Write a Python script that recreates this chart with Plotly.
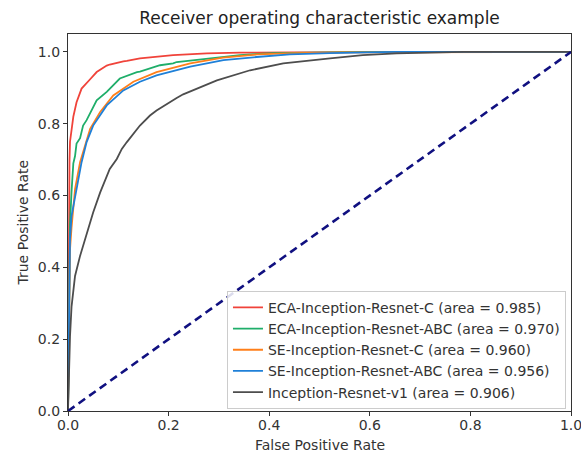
import plotly.graph_objects as go

# ---- data ----
labels = [
    "ECA-Inception-Resnet-C (area = 0.985)",
    "ECA-Inception-Resnet-ABC (area = 0.970)",
    "SE-Inception-Resnet-C (area = 0.960)",
    "SE-Inception-Resnet-ABC (area = 0.956)",
    "Inception-Resnet-v1 (area = 0.906)",
]
colors = ["#f0433a", "#1fae6a", "#ff7f1a", "#1f80d8", "#4d4d4d"]

fpr_eca_c = [0, 0.001, 0.002, 0.003, 0.004, 0.0106, 0.017, 0.024, 0.027, 0.044, 0.057, 0.077,
             0.083, 0.11, 0.117, 0.143, 0.156, 0.209, 0.276, 0.342, 0.45, 0.6, 0.8, 1.0]
tpr_eca_c = [0, 0.45, 0.62, 0.70, 0.75, 0.82, 0.86, 0.89, 0.898, 0.924, 0.944, 0.962,
             0.965, 0.974, 0.975, 0.982, 0.984, 0.991, 0.996, 0.998, 0.999, 1.0, 1.0, 1.0]

fpr_eca_abc = [0, 0.002, 0.004, 0.007, 0.0106, 0.014, 0.017, 0.024, 0.030, 0.037, 0.057, 0.077,
               0.103, 0.137, 0.143, 0.183, 0.209, 0.216, 0.276, 0.342, 0.408, 0.5, 0.6, 0.8, 1.0]
tpr_eca_abc = [0, 0.40, 0.52, 0.61, 0.69, 0.71, 0.745, 0.76, 0.795, 0.81, 0.865, 0.889,
               0.926, 0.944, 0.945, 0.963, 0.968, 0.972, 0.982, 0.991, 0.997, 0.999, 1.0, 1.0, 1.0]

fpr_se_c = [0, 0.002, 0.004, 0.007, 0.014, 0.024, 0.030, 0.044, 0.064, 0.09, 0.13, 0.176,
            0.243, 0.308, 0.375, 0.45, 0.55, 0.7, 1.0]
tpr_se_c = [0, 0.30, 0.45, 0.51, 0.618, 0.693, 0.72, 0.786, 0.833, 0.879, 0.917, 0.944,
            0.968, 0.984, 0.993, 0.997, 0.999, 1.0, 1.0]

fpr_se_abc = [0, 0.001, 0.002, 0.004, 0.007, 0.017, 0.027, 0.037, 0.050, 0.077, 0.11, 0.143,
              0.176, 0.243, 0.309, 0.375, 0.441, 0.52, 0.65, 1.0]
tpr_se_abc = [0, 0.15, 0.35, 0.48, 0.543, 0.618, 0.693, 0.749, 0.795, 0.851, 0.893, 0.917,
              0.935, 0.959, 0.977, 0.986, 0.993, 0.997, 1.0, 1.0]

fpr_v1 = [0, 0.002, 0.003, 0.004, 0.007, 0.011, 0.014, 0.024, 0.034, 0.05, 0.064, 0.083, 0.097,
          0.107, 0.117, 0.143, 0.163, 0.176, 0.216, 0.229, 0.296, 0.362, 0.428, 0.481, 0.521,
          0.586, 0.653, 0.786, 1.0]
tpr_v1 = [0, 0.10, 0.17, 0.208, 0.29, 0.34, 0.376, 0.432, 0.478, 0.553, 0.609, 0.674, 0.702,
          0.73, 0.749, 0.795, 0.823, 0.837, 0.872, 0.882, 0.921, 0.949, 0.968, 0.977, 0.982,
          0.991, 0.996, 1.0, 1.0]

chance_x = [0, 1]
chance_y = [0, 1]

x_ticks = [0.0, 0.2, 0.4, 0.6, 0.8, 1.0]
y_ticks = [0.0, 0.2, 0.4, 0.6, 0.8, 1.0]
tick_text = ["0.0", "0.2", "0.4", "0.6", "0.8", "1.0"]

curves = [
    (fpr_eca_c, tpr_eca_c),
    (fpr_eca_abc, tpr_eca_abc),
    (fpr_se_c, tpr_se_c),
    (fpr_se_abc, tpr_se_abc),
    (fpr_v1, tpr_v1),
]

FONT = "DejaVu Sans"
W, H = 581, 454
ML, MR, MT, MB = 68, 10, 34, 43
PW, PH = W - ML - MR, H - MT - MB

fig = go.Figure()
for (fx, ty), name, col in zip(curves, labels, colors):
    fig.add_trace(go.Scatter(x=fx, y=ty, mode="lines", name=name,
                             line=dict(color=col, width=1.8)))
fig.add_trace(go.Scatter(x=chance_x, y=chance_y, mode="lines", showlegend=False,
                         line=dict(color="#101080", width=2.6, dash="8px,5px")))

axis_common = dict(
    showgrid=False, zeroline=False, showline=True, mirror=True,
    linecolor="#333333", linewidth=1.2, ticks="outside", ticklen=4,
    tickcolor="#333333", tickfont=dict(family=FONT, size=14, color="#333333"),
    ticklabeloverflow="allow", automargin=False,
)

fig.update_layout(
    width=W, height=H,
    margin=dict(l=ML, r=MR, t=MT, b=MB, autoexpand=False),
    paper_bgcolor="white", plot_bgcolor="white",
    font=dict(family=FONT, color="#333333"),
    title=dict(text="Receiver operating characteristic example",
               font=dict(family=FONT, size=17, color="#222222"),
               x=0.5, xref="paper", xanchor="center",
               y=1 - 18 / H, yref="container", yanchor="middle"),
    xaxis=dict(range=[0, 1], tickvals=x_ticks, ticktext=tick_text,
               ticklabelstandoff=-3, **axis_common),
    yaxis=dict(range=[0, 1.05], tickvals=y_ticks, ticktext=tick_text,
               **axis_common),
    legend=dict(x=0.99, xanchor="right", y=0.006, yanchor="bottom",
                bgcolor="rgba(255,255,255,0.85)", bordercolor="#cccccc", borderwidth=1,
                font=dict(family=FONT, size=14, color="#333333"),
                itemwidth=30, tracegroupgap=0),
    annotations=[
        dict(text="False Positive Rate", xref="paper", yref="paper",
             x=0.5, y=-(445 - (H - MB)) / PH, xanchor="center", yanchor="middle",
             showarrow=False, font=dict(family=FONT, size=14, color="#333333")),
        dict(text="True Positive Rate", xref="paper", yref="paper",
             x=-(ML - 22) / PW, y=0.5, xanchor="center", yanchor="middle",
             textangle=-90, showarrow=False,
             font=dict(family=FONT, size=14, color="#333333")),
    ],
)

fig.write_html("out.html")
